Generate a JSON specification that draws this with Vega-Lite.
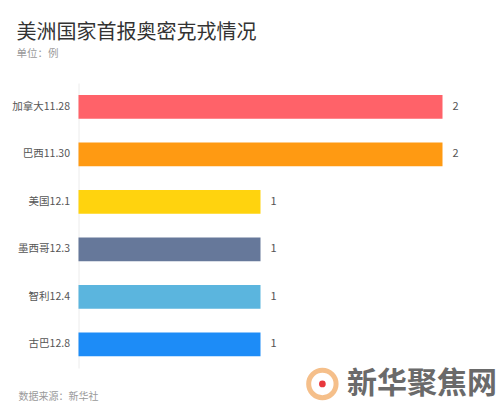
{
  "$schema": "https://vega.github.io/schema/vega-lite/v6.json",
  "width": 364,
  "height": 285,
  "autosize": {"type": "none"},
  "padding": {"left": 78.5, "top": 83, "right": 57.5, "bottom": 43},
  "background": "white",
  "config": {"view": {"stroke": null}, "font": "Noto Sans CJK SC"},
  "title": {
    "text": "美洲国家首报奥密克戎情况",
    "subtitle": "单位：例",
    "anchor": "start",
    "frame": "group",
    "dx": -62,
    "offset": 24,
    "font": "Noto Sans CJK SC",
    "fontSize": 20,
    "fontWeight": "normal",
    "color": "#333333",
    "subtitleFont": "Noto Sans CJK SC",
    "subtitleFontSize": 10.5,
    "subtitleColor": "#9a9a9a",
    "subtitlePadding": 6
  },
  "datasets": {
    "cases": [
      {"label": "加拿大11.28", "value": 2},
      {"label": "巴西11.30", "value": 2},
      {"label": "美国12.1", "value": 1},
      {"label": "墨西哥12.3", "value": 1},
      {"label": "智利12.4", "value": 1},
      {"label": "古巴12.8", "value": 1}
    ],
    "mark": [{"name": "新华聚焦网"}]
  },
  "layer": [
    {
      "data": {"name": "cases"},
      "encoding": {
        "y": {
          "field": "label",
          "type": "nominal",
          "sort": null,
          "scale": {"paddingInner": 0.5, "paddingOuter": 0.25},
          "axis": {
            "title": null,
            "ticks": false,
            "labelPadding": 9,
            "labelFontSize": 10.5,
            "labelColor": "#555555",
            "labelFont": "Noto Sans CJK SC",
            "domainColor": "#ececec"
          }
        },
        "x": {
          "field": "value",
          "type": "quantitative",
          "scale": {"domain": [0, 2], "nice": false},
          "axis": {
            "labels": false,
            "ticks": false,
            "grid": false,
            "domain": false,
            "title": "数据来源：新华社",
            "titleX": -60.5,
            "titleY": 28,
            "titleAlign": "left",
            "titleAnchor": null,
            "titleBaseline": "middle",
            "titleFontSize": 10,
            "titleFontWeight": "normal",
            "titleColor": "#9a9a9a",
            "titleFont": "Noto Sans CJK SC"
          }
        }
      },
      "layer": [
        {
          "mark": {"type": "bar"},
          "encoding": {
            "color": {
              "field": "label",
              "type": "nominal",
              "scale": {
                "domain": ["加拿大11.28", "巴西11.30", "美国12.1", "墨西哥12.3", "智利12.4", "古巴12.8"],
                "range": ["#ff6269", "#ff9a12", "#ffd30e", "#66789a", "#5bb5de", "#1d8cf7"]
              },
              "legend": null
            }
          }
        },
        {
          "mark": {"type": "text", "align": "left", "baseline": "middle", "dx": 10, "fontSize": 11, "color": "#555555"},
          "encoding": {"text": {"field": "value", "type": "quantitative"}}
        }
      ]
    },
    {
      "data": {"name": "mark"},
      "encoding": {
        "y": {"datum": -0.056, "type": "quantitative", "scale": {"domain": [0, 1], "nice": false, "zero": false}, "axis": null}
      },
      "layer": [
        {
          "mark": {"type": "text", "align": "right", "baseline": "middle", "fontSize": 30, "fontWeight": "bold", "color": "#6a6a6a", "font": "Noto Sans CJK SC"},
          "encoding": {
            "x": {"datum": 2.3, "type": "quantitative"},
            "text": {"field": "name", "type": "nominal"}
          }
        },
        {
          "mark": {"type": "point", "shape": "circle", "filled": false, "size": 750, "strokeWidth": 5, "color": "#f2a55a"},
          "encoding": {"x": {"datum": 1.34, "type": "quantitative"}}
        },
        {
          "mark": {"type": "point", "shape": "circle", "filled": true, "size": 45, "opacity": 1, "color": "#e8383d"},
          "encoding": {"x": {"datum": 1.34, "type": "quantitative"}}
        }
      ]
    }
  ],
  "resolve": {"scale": {"y": "independent"}, "axis": {"y": "independent"}}
}
